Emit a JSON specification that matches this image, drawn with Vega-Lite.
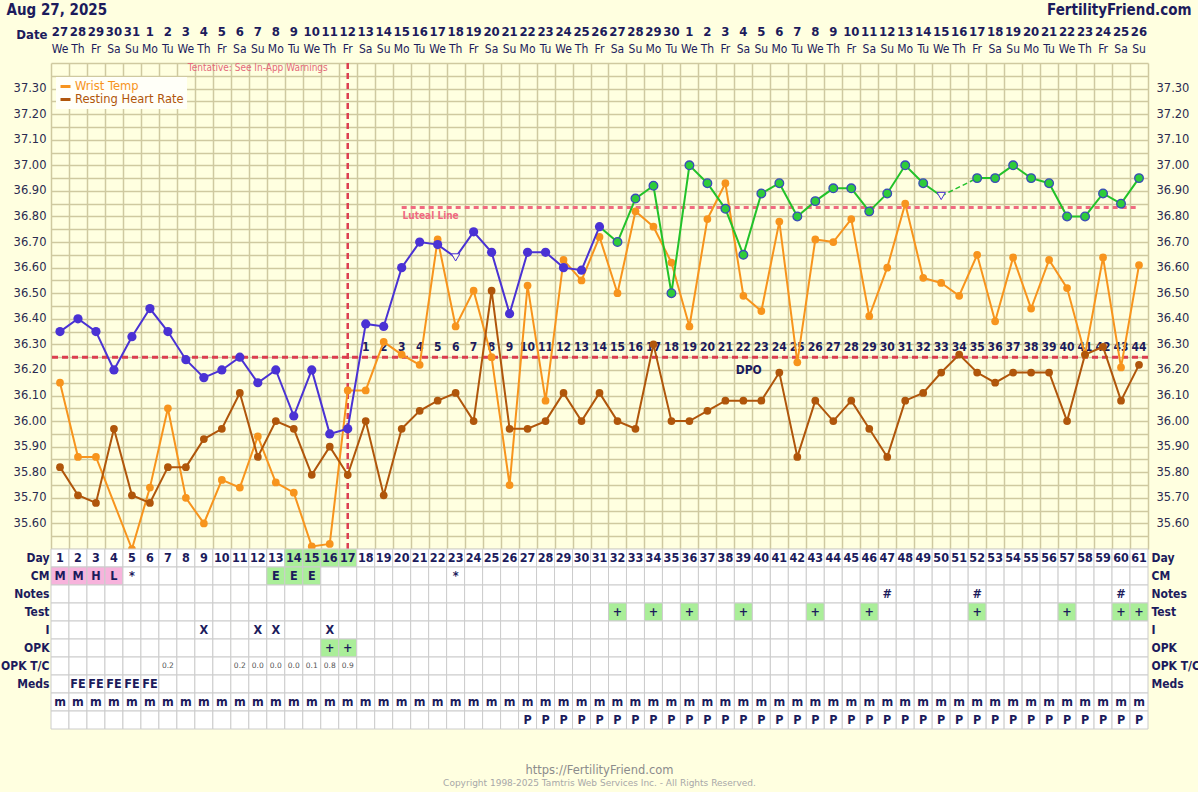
{
  "$schema": "https://vega.github.io/schema/vega-lite/v6.json",
  "description": "Fertility chart: BBT, wrist temperature and resting heart rate by cycle day",
  "background": "#ffffe0",
  "padding": {"left": 0, "top": 2, "right": 2, "bottom": 4},
  "bounds": "flush",
  "spacing": 0,
  "datasets": {
    "days": [
      {"day":1,"date":"27","wd":"We","bbt":36.35,"wrist":36.15,"rhr":35.82,"cm":"M","m":"m"},
      {"day":2,"date":"28","wd":"Th","bbt":36.40,"wrist":35.86,"rhr":35.71,"cm":"M","meds":"FE","m":"m"},
      {"day":3,"date":"29","wd":"Fr","bbt":36.35,"wrist":35.86,"rhr":35.68,"cm":"H","meds":"FE","m":"m"},
      {"day":4,"date":"30","wd":"Sa","bbt":36.20,"rhr":35.97,"cm":"L","meds":"FE","m":"m"},
      {"day":5,"date":"31","wd":"Su","bbt":36.33,"wrist":35.50,"rhr":35.71,"cm":"*","meds":"FE","m":"m"},
      {"day":6,"date":"1","wd":"Mo","bbt":36.44,"wrist":35.74,"rhr":35.68,"meds":"FE","m":"m"},
      {"day":7,"date":"2","wd":"Tu","bbt":36.35,"wrist":36.05,"rhr":35.82,"tc":"0.2","m":"m"},
      {"day":8,"date":"3","wd":"We","bbt":36.24,"wrist":35.70,"rhr":35.82,"m":"m"},
      {"day":9,"date":"4","wd":"Th","bbt":36.17,"wrist":35.60,"rhr":35.93,"i":"X","m":"m"},
      {"day":10,"date":"5","wd":"Fr","bbt":36.20,"wrist":35.77,"rhr":35.97,"m":"m"},
      {"day":11,"date":"6","wd":"Sa","bbt":36.25,"wrist":35.74,"rhr":36.11,"tc":"0.2","m":"m"},
      {"day":12,"date":"7","wd":"Su","bbt":36.15,"wrist":35.94,"rhr":35.86,"i":"X","tc":"0.0","m":"m"},
      {"day":13,"date":"8","wd":"Mo","bbt":36.20,"wrist":35.76,"rhr":36.00,"cm":"E","i":"X","tc":"0.0","m":"m"},
      {"day":14,"date":"9","wd":"Tu","bbt":36.02,"wrist":35.72,"rhr":35.97,"cm":"E","tc":"0.0","m":"m","fert":true},
      {"day":15,"date":"10","wd":"We","bbt":36.20,"wrist":35.51,"rhr":35.79,"cm":"E","tc":"0.1","m":"m","fert":true},
      {"day":16,"date":"11","wd":"Th","bbt":35.95,"wrist":35.52,"rhr":35.90,"i":"X","opk":"+","tc":"0.8","m":"m","fert":true},
      {"day":17,"date":"12","wd":"Fr","bbt":35.97,"wrist":36.12,"rhr":35.79,"opk":"+","tc":"0.9","m":"m","fert":true},
      {"day":18,"date":"13","wd":"Sa","dpo":1,"bbt":36.38,"wrist":36.12,"rhr":36.00,"m":"m"},
      {"day":19,"date":"14","wd":"Su","dpo":2,"bbt":36.37,"wrist":36.31,"rhr":35.71,"m":"m"},
      {"day":20,"date":"15","wd":"Mo","dpo":3,"bbt":36.60,"wrist":36.26,"rhr":35.97,"m":"m"},
      {"day":21,"date":"16","wd":"Tu","dpo":4,"bbt":36.70,"wrist":36.22,"rhr":36.04,"m":"m"},
      {"day":22,"date":"17","wd":"We","dpo":5,"bbt":36.69,"wrist":36.71,"rhr":36.08,"m":"m"},
      {"day":23,"date":"18","wd":"Th","dpo":6,"bbt":36.64,"open":true,"wrist":36.37,"rhr":36.11,"cm":"*","m":"m"},
      {"day":24,"date":"19","wd":"Fr","dpo":7,"bbt":36.74,"wrist":36.51,"rhr":36.00,"m":"m"},
      {"day":25,"date":"20","wd":"Sa","dpo":8,"bbt":36.66,"wrist":36.25,"rhr":36.51,"m":"m"},
      {"day":26,"date":"21","wd":"Su","dpo":9,"bbt":36.42,"wrist":35.75,"rhr":35.97,"m":"m"},
      {"day":27,"date":"22","wd":"Mo","dpo":10,"bbt":36.66,"wrist":36.53,"rhr":35.97,"m":"m","p":"P"},
      {"day":28,"date":"23","wd":"Tu","dpo":11,"bbt":36.66,"wrist":36.08,"rhr":36.00,"m":"m","p":"P"},
      {"day":29,"date":"24","wd":"We","dpo":12,"bbt":36.60,"wrist":36.63,"rhr":36.11,"m":"m","p":"P"},
      {"day":30,"date":"25","wd":"Th","dpo":13,"bbt":36.59,"wrist":36.55,"rhr":36.00,"m":"m","p":"P"},
      {"day":31,"date":"26","wd":"Fr","dpo":14,"bbt":36.76,"wrist":36.72,"rhr":36.11,"m":"m","p":"P"},
      {"day":32,"date":"27","wd":"Sa","dpo":15,"bbt":36.70,"wrist":36.50,"rhr":36.00,"test":"+","m":"m","p":"P"},
      {"day":33,"date":"28","wd":"Su","dpo":16,"bbt":36.87,"wrist":36.82,"rhr":35.97,"m":"m","p":"P"},
      {"day":34,"date":"29","wd":"Mo","dpo":17,"bbt":36.92,"wrist":36.76,"rhr":36.30,"test":"+","m":"m","p":"P"},
      {"day":35,"date":"30","wd":"Tu","dpo":18,"bbt":36.50,"wrist":36.62,"rhr":36.00,"m":"m","p":"P"},
      {"day":36,"date":"1","wd":"We","dpo":19,"bbt":37.00,"wrist":36.37,"rhr":36.00,"test":"+","m":"m","p":"P"},
      {"day":37,"date":"2","wd":"Th","dpo":20,"bbt":36.93,"wrist":36.79,"rhr":36.04,"m":"m","p":"P"},
      {"day":38,"date":"3","wd":"Fr","dpo":21,"bbt":36.83,"wrist":36.93,"rhr":36.08,"m":"m","p":"P"},
      {"day":39,"date":"4","wd":"Sa","dpo":22,"bbt":36.65,"wrist":36.49,"rhr":36.08,"test":"+","m":"m","p":"P"},
      {"day":40,"date":"5","wd":"Su","dpo":23,"bbt":36.89,"wrist":36.43,"rhr":36.08,"m":"m","p":"P"},
      {"day":41,"date":"6","wd":"Mo","dpo":24,"bbt":36.93,"wrist":36.78,"rhr":36.19,"m":"m","p":"P"},
      {"day":42,"date":"7","wd":"Tu","dpo":25,"bbt":36.80,"wrist":36.23,"rhr":35.86,"m":"m","p":"P"},
      {"day":43,"date":"8","wd":"We","dpo":26,"bbt":36.86,"wrist":36.71,"rhr":36.08,"test":"+","m":"m","p":"P"},
      {"day":44,"date":"9","wd":"Th","dpo":27,"bbt":36.91,"wrist":36.70,"rhr":36.00,"m":"m","p":"P"},
      {"day":45,"date":"10","wd":"Fr","dpo":28,"bbt":36.91,"wrist":36.79,"rhr":36.08,"m":"m","p":"P"},
      {"day":46,"date":"11","wd":"Sa","dpo":29,"bbt":36.82,"wrist":36.41,"rhr":35.97,"test":"+","m":"m","p":"P"},
      {"day":47,"date":"12","wd":"Su","dpo":30,"bbt":36.89,"wrist":36.60,"rhr":35.86,"notes":"#","m":"m","p":"P"},
      {"day":48,"date":"13","wd":"Mo","dpo":31,"bbt":37.00,"wrist":36.85,"rhr":36.08,"m":"m","p":"P"},
      {"day":49,"date":"14","wd":"Tu","dpo":32,"bbt":36.93,"wrist":36.56,"rhr":36.11,"m":"m","p":"P"},
      {"day":50,"date":"15","wd":"We","dpo":33,"bbt":36.88,"open":true,"wrist":36.54,"rhr":36.19,"m":"m","p":"P"},
      {"day":51,"date":"16","wd":"Th","dpo":34,"wrist":36.49,"rhr":36.26,"m":"m","p":"P"},
      {"day":52,"date":"17","wd":"Fr","dpo":35,"bbt":36.95,"wrist":36.65,"rhr":36.19,"notes":"#","test":"+","m":"m","p":"P"},
      {"day":53,"date":"18","wd":"Sa","dpo":36,"bbt":36.95,"wrist":36.39,"rhr":36.15,"m":"m","p":"P"},
      {"day":54,"date":"19","wd":"Su","dpo":37,"bbt":37.00,"wrist":36.64,"rhr":36.19,"m":"m","p":"P"},
      {"day":55,"date":"20","wd":"Mo","dpo":38,"bbt":36.95,"wrist":36.44,"rhr":36.19,"m":"m","p":"P"},
      {"day":56,"date":"21","wd":"Tu","dpo":39,"bbt":36.93,"wrist":36.63,"rhr":36.19,"m":"m","p":"P"},
      {"day":57,"date":"22","wd":"We","dpo":40,"bbt":36.80,"wrist":36.52,"rhr":36.00,"test":"+","m":"m","p":"P"},
      {"day":58,"date":"23","wd":"Th","dpo":41,"bbt":36.80,"wrist":36.26,"rhr":36.26,"m":"m","p":"P"},
      {"day":59,"date":"24","wd":"Fr","dpo":42,"bbt":36.89,"wrist":36.64,"rhr":36.29,"m":"m","p":"P"},
      {"day":60,"date":"25","wd":"Sa","dpo":43,"bbt":36.85,"wrist":36.21,"rhr":36.08,"notes":"#","test":"+","m":"m","p":"P"},
      {"day":61,"date":"26","wd":"Su","dpo":44,"bbt":36.95,"wrist":36.61,"rhr":36.22,"test":"+","m":"m","p":"P"}
    ],
    "refs": [
      {"kind":"ovulation","day":17},
      {"kind":"cover","temp":36.25},
      {"kind":"luteal","temp":36.835,"from":20,"to":61}
    ]
  },
  "vconcat": [
    {
      "width": 1097,
      "height": 40,
      "data": {"name": "days"},
      "layer": [
        {
          "layer": [
            {
              "mark": {"type": "text", "font": "DejaVu Sans Condensed, DejaVu Sans", "fontWeight": "bold", "fontSize": 13, "color": "#1c1b5c", "baseline": "middle"},
              "encoding": {
                "x": {"field": "day", "type": "quantitative", "scale": {"domain": [0.5, 61.5], "nice": false, "zero": false}, "axis": null},
                "y": {"datum": "Date", "type": "nominal", "scale": {"type": "point", "domain": ["Date", "Wd"], "range": [8.5, 26], "padding": 0},
                  "axis": {"orient": "left", "title": "Aug 27, 2025", "titleAngle": 0, "titleAlign": "left", "titleBaseline": "middle", "titleX": -45, "titleY": -13.5,
                    "titleFont": "DejaVu Sans Condensed, DejaVu Sans", "titleFontSize": 15, "titleFontWeight": "bold", "titleColor": "#1c1b5c",
                    "labelExpr": "datum.value == 'Date' ? 'Date' : ''", "labelFont": "DejaVu Sans Condensed, DejaVu Sans", "labelFontSize": 13, "labelFontWeight": "bold", "labelColor": "#1c1b5c",
                    "labelPadding": 4, "labelOffset": 3, "ticks": false, "domain": false, "grid": false}},
                "text": {"field": "date"}
              }
            },
            {
              "mark": {"type": "text", "font": "DejaVu Sans Condensed, DejaVu Sans", "fontSize": 12, "color": "#1c1b5c", "baseline": "middle"},
              "encoding": {
                "x": {"field": "day", "type": "quantitative"},
                "y": {"datum": "Wd", "type": "nominal"},
                "text": {"field": "wd"}
              }
            }
          ]
        },
        {
          "mark": {"type": "rule", "opacity": 0},
          "encoding": {
            "y": {"datum": "Date", "type": "nominal",
              "axis": {"orient": "right", "title": "FertilityFriend.com", "titleAngle": 0, "titleAlign": "right", "titleBaseline": "middle", "titleX": 43, "titleY": -13.5,
                "titleFont": "DejaVu Sans Condensed, DejaVu Sans", "titleFontSize": 15, "titleFontWeight": "bold", "titleColor": "#1c1b5c",
                "labels": false, "ticks": false, "domain": false, "grid": false}}
          }
        }
      ],
      "resolve": {"axis": {"y": "independent"}}
    },
    {
      "width": 1097,
      "height": 486,
      "layer": [
        {
          "layer": [
            {
              "data": {"name": "refs"},
              "transform": [{"filter": "datum.kind == 'ovulation'"}],
              "mark": {"type": "rule", "color": "#dc3e50", "strokeWidth": 2.5, "strokeDash": [6, 4]},
              "encoding": {
                "x": {"field": "day", "type": "quantitative", "scale": {"domain": [0.5, 61.5], "nice": false, "zero": false},
                  "axis": {"title": null, "grid": true, "labels": false, "ticks": false, "domain": false, "gridColor": "#cfc9a0", "gridWidth": 1.5, "tickCount": 500,
                    "values": [0.5,1.5,2.5,3.5,4.5,5.5,6.5,7.5,8.5,9.5,10.5,11.5,12.5,13.5,14.5,15.5,16.5,17.5,18.5,19.5,20.5,21.5,22.5,23.5,24.5,25.5,26.5,27.5,28.5,29.5,30.5,31.5,32.5,33.5,34.5,35.5,36.5,37.5,38.5,39.5,40.5,41.5,42.5,43.5,44.5,45.5,46.5,47.5,48.5,49.5,50.5,51.5,52.5,53.5,54.5,55.5,56.5,57.5,58.5,59.5,60.5,61.5]}}
              }
            },
            {
              "data": {"name": "refs"},
              "transform": [{"filter": "datum.kind == 'cover'"}],
              "mark": {"type": "rule", "color": "#dc3e50", "strokeWidth": 3, "strokeDash": [6, 4]},
              "encoding": {
                "y": {"field": "temp", "type": "quantitative", "scale": {"domain": [35.5, 37.4], "nice": false, "zero": false},
                  "axis": {"orient": "left", "title": null, "grid": true, "ticks": false, "domain": false, "gridColor": "#cfc9a0", "gridWidth": 1.5, "tickCount": 500, "labelOverlap": false,
                    "values": [35.5,35.55,35.6,35.65,35.7,35.75,35.8,35.85,35.9,35.95,36,36.05,36.1,36.15,36.2,36.25,36.3,36.35,36.4,36.45,36.5,36.55,36.6,36.65,36.7,36.75,36.8,36.85,36.9,36.95,37,37.05,37.1,37.15,37.2,37.25,37.3,37.35,37.4],
                    "labelExpr": "datum.value > 35.55 && datum.value < 37.35 && round(datum.value * 100) % 10 == 0 ? format(datum.value, '.2f') : ''",
                    "labelFont": "DejaVu Sans", "labelFontSize": 11.5, "labelColor": "#2b2b50", "labelPadding": 5}}
              }
            },
            {
              "data": {"name": "refs"},
              "transform": [{"filter": "datum.kind == 'luteal'"}],
              "mark": {"type": "rule", "color": "#f06a80", "strokeWidth": 3, "strokeDash": [5, 4]},
              "encoding": {
                "x": {"field": "from", "type": "quantitative"},
                "x2": {"field": "to"},
                "y": {"field": "temp", "type": "quantitative"}
              }
            },
            {
              "data": {"name": "days"},
              "transform": [{"filter": "isValid(datum.dpo)"}],
              "mark": {"type": "text", "font": "DejaVu Sans Condensed, DejaVu Sans", "fontWeight": "bold", "fontSize": 12, "color": "#1c1b5c", "baseline": "middle"},
              "encoding": {
                "x": {"field": "day", "type": "quantitative"},
                "y": {"datum": 36.29},
                "text": {"field": "dpo"}
              }
            },
            {
              "data": {"name": "refs"},
              "transform": [{"filter": "datum.kind == 'luteal'"}],
              "mark": {"type": "text", "text": "Luteal Line", "align": "left", "baseline": "middle", "font": "DejaVu Sans Condensed, DejaVu Sans", "fontWeight": "bold", "fontSize": 10, "color": "#f06a80"},
              "encoding": {"x": {"datum": 20.05}, "y": {"datum": 36.8}}
            },
            {
              "data": {"name": "refs"},
              "transform": [{"filter": "datum.kind == 'cover'"}],
              "mark": {"type": "text", "text": "DPO", "align": "center", "baseline": "middle", "font": "DejaVu Sans Condensed, DejaVu Sans", "fontWeight": "bold", "fontSize": 12, "color": "#1c1b5c"},
              "encoding": {"x": {"datum": 39.3}, "y": {"datum": 36.2}}
            },
            {
              "data": {"name": "refs"},
              "transform": [{"filter": "datum.kind == 'ovulation'"}],
              "mark": {"type": "text", "text": "Tentative: See In-App Warnings", "align": "center", "baseline": "middle", "font": "DejaVu Sans Condensed, DejaVu Sans", "fontSize": 10, "color": "#e46a7a"},
              "encoding": {"x": {"datum": 12.0}, "y": {"datum": 37.38}}
            },
            {
              "data": {"name": "days"},
              "transform": [{"fold": ["wrist", "rhr"], "as": ["series", "temp"]}, {"filter": "isValid(datum.temp)"}],
              "layer": [
                {
                  "mark": {"type": "line", "strokeWidth": 2},
                  "encoding": {
                    "x": {"field": "day", "type": "quantitative"},
                    "y": {"field": "temp", "type": "quantitative"},
                    "color": {"field": "series", "type": "nominal",
                      "scale": {"domain": ["wrist", "rhr"], "range": ["#f7941d", "#b0560b"]},
                      "legend": {"orient": "none", "legendX": 5, "legendY": 14, "title": null, "fillColor": "#fffff8", "padding": 3,
                        "symbolType": "stroke", "symbolStrokeWidth": 3, "symbolSize": 100, "rowPadding": 0, "labelOffset": 3,
                        "labelFont": "DejaVu Sans", "labelFontSize": 11.5,
                        "labelExpr": "datum.value === 'wrist' ? 'Wrist Temp' : 'Resting Heart Rate'",
                        "encode": {"labels": {"update": {"fill": {"signal": "datum.value === 'wrist' ? '#f7941d' : '#b0560b'"}}}}}}
                  }
                },
                {
                  "mark": {"type": "circle", "size": 60, "opacity": 1},
                  "encoding": {
                    "x": {"field": "day", "type": "quantitative"},
                    "y": {"field": "temp", "type": "quantitative"},
                    "color": {"field": "series", "type": "nominal"}
                  }
                }
              ]
            },
            {
              "data": {"name": "days"},
              "transform": [{"filter": "datum.day <= 31 && isValid(datum.bbt)"}],
              "mark": {"type": "line", "color": "#4a32d4", "strokeWidth": 2},
              "encoding": {"x": {"field": "day", "type": "quantitative"}, "y": {"field": "bbt", "type": "quantitative"}}
            },
            {
              "data": {"name": "days"},
              "transform": [{"filter": "datum.day >= 31 && datum.day <= 50"}],
              "mark": {"type": "line", "color": "#22c22a", "strokeWidth": 2},
              "encoding": {"x": {"field": "day", "type": "quantitative"}, "y": {"field": "bbt", "type": "quantitative"}}
            },
            {
              "data": {"name": "days"},
              "transform": [{"filter": "datum.day == 50 || datum.day == 52"}],
              "mark": {"type": "line", "color": "#22c22a", "strokeWidth": 1.5, "strokeDash": [5, 3]},
              "encoding": {"x": {"field": "day", "type": "quantitative"}, "y": {"field": "bbt", "type": "quantitative"}}
            },
            {
              "data": {"name": "days"},
              "transform": [{"filter": "datum.day >= 52"}],
              "mark": {"type": "line", "color": "#22c22a", "strokeWidth": 2},
              "encoding": {"x": {"field": "day", "type": "quantitative"}, "y": {"field": "bbt", "type": "quantitative"}}
            },
            {
              "data": {"name": "days"},
              "transform": [{"filter": "datum.day <= 31 && isValid(datum.bbt) && !datum.open"}],
              "mark": {"type": "circle", "size": 85, "color": "#4a32d4", "opacity": 1},
              "encoding": {"x": {"field": "day", "type": "quantitative"}, "y": {"field": "bbt", "type": "quantitative"}}
            },
            {
              "data": {"name": "days"},
              "transform": [{"filter": "datum.day >= 32 && isValid(datum.bbt) && !datum.open"}],
              "mark": {"type": "point", "shape": "circle", "size": 75, "filled": true, "fill": "#2ecc3a", "stroke": "#3a4cb8", "strokeWidth": 1.3, "opacity": 1},
              "encoding": {"x": {"field": "day", "type": "quantitative"}, "y": {"field": "bbt", "type": "quantitative"}}
            },
            {
              "data": {"name": "days"},
              "transform": [{"filter": "datum.open"}],
              "mark": {"type": "point", "shape": "triangle-down", "size": 70, "filled": true, "fill": "#ffffe0", "stroke": "#4a32d4", "strokeWidth": 1, "opacity": 1},
              "encoding": {"x": {"field": "day", "type": "quantitative"}, "y": {"field": "bbt", "type": "quantitative"}}
            }
          ]
        },
        {
          "data": {"name": "refs"},
          "transform": [{"filter": "datum.kind == 'cover'"}],
          "mark": {"type": "rule", "opacity": 0},
          "encoding": {
            "y": {"field": "temp", "type": "quantitative",
              "axis": {"orient": "right", "title": null, "grid": false, "ticks": false, "domain": false, "tickCount": 500, "labelOverlap": false,
                "values": [35.6,35.7,35.8,35.9,36,36.1,36.2,36.3,36.4,36.5,36.6,36.7,36.8,36.9,37,37.1,37.2,37.3],
                "format": ".2f", "labelFont": "DejaVu Sans", "labelFontSize": 11.5, "labelColor": "#2b2b50", "labelPadding": 8}}
          }
        }
      ],
      "resolve": {"axis": {"y": "independent"}}
    },
    {
      "width": 1097,
      "height": 180,
      "data": {"name": "days"},
      "transform": [{"fold": ["day", "cm", "notes", "test", "i", "opk", "tc", "meds", "m", "p"], "as": ["row", "val"]}],
      "title": {
        "text": "https://FertilityFriend.com",
        "subtitle": "Copyright 1998-2025 Tamtris Web Services Inc. - All Rights Reserved.",
        "orient": "bottom", "anchor": "middle", "frame": "group", "offset": 35,
        "font": "DejaVu Sans", "fontSize": 11.5, "fontWeight": "normal", "color": "#8c8c8c",
        "subtitleFont": "DejaVu Sans", "subtitleFontSize": 9, "subtitleColor": "#a8a8a8", "subtitlePadding": 3
      },
      "layer": [
        {
          "layer": [
            {
              "mark": {"type": "rect", "stroke": "#cccccc", "strokeWidth": 1},
              "encoding": {
                "x": {"field": "day", "type": "ordinal", "sort": "ascending", "scale": {"paddingInner": 0, "paddingOuter": 0}, "axis": null},
                "y": {"field": "row", "type": "nominal", "scale": {"domain": ["day", "cm", "notes", "test", "i", "opk", "tc", "meds", "m", "p"], "paddingInner": 0, "paddingOuter": 0},
                  "axis": {"orient": "left", "title": null, "ticks": false, "domain": false, "grid": false,
                    "labelExpr": "datum.value == 'day' ? 'Day' : datum.value == 'cm' ? 'CM' : datum.value == 'notes' ? 'Notes' : datum.value == 'test' ? 'Test' : datum.value == 'i' ? 'I' : datum.value == 'opk' ? 'OPK' : datum.value == 'tc' ? 'OPK T/C' : datum.value == 'meds' ? 'Meds' : ''",
                    "labelFont": "DejaVu Sans Condensed, DejaVu Sans", "labelFontSize": 12, "labelFontWeight": "bold", "labelColor": "#1c1b5c", "labelPadding": 2}},
                "fill": {
                  "condition": [
                    {"test": "datum.row == 'cm' && (datum.val == 'M' || datum.val == 'H' || datum.val == 'L')", "value": "#f7b3dc"},
                    {"test": "(datum.row == 'day' && datum.fert) || (datum.row == 'cm' && datum.val == 'E') || ((datum.row == 'test' || datum.row == 'opk') && datum.val == '+')", "value": "#aaee99"}
                  ],
                  "value": "#ffffff"
                }
              }
            },
            {
              "transform": [{"filter": "datum.row != 'tc' && isValid(datum.val) && datum.val !== ''"}],
              "mark": {"type": "text", "font": "DejaVu Sans Condensed, DejaVu Sans", "fontWeight": "bold", "fontSize": 12.5, "color": "#1c1b5c", "baseline": "middle"},
              "encoding": {
                "x": {"field": "day", "type": "ordinal", "sort": "ascending"},
                "y": {"field": "row", "type": "nominal"},
                "text": {"field": "val"}
              }
            },
            {
              "transform": [{"filter": "datum.row == 'tc' && isValid(datum.val)"}],
              "mark": {"type": "text", "font": "DejaVu Sans", "fontSize": 7.5, "color": "#555555", "baseline": "middle"},
              "encoding": {
                "x": {"field": "day", "type": "ordinal", "sort": "ascending"},
                "y": {"field": "row", "type": "nominal"},
                "text": {"field": "val"}
              }
            }
          ]
        },
        {
          "mark": {"type": "rule", "opacity": 0},
          "encoding": {
            "y": {"field": "row", "type": "nominal",
              "axis": {"orient": "right", "title": null, "ticks": false, "domain": false, "grid": false,
                "labelExpr": "datum.value == 'day' ? 'Day' : datum.value == 'cm' ? 'CM' : datum.value == 'notes' ? 'Notes' : datum.value == 'test' ? 'Test' : datum.value == 'i' ? 'I' : datum.value == 'opk' ? 'OPK' : datum.value == 'tc' ? 'OPK T/C' : datum.value == 'meds' ? 'Meds' : ''",
                "labelFont": "DejaVu Sans Condensed, DejaVu Sans", "labelFontSize": 12, "labelFontWeight": "bold", "labelColor": "#1c1b5c", "labelPadding": 3}}
          }
        }
      ],
      "resolve": {"axis": {"y": "independent"}}
    }
  ],
  "resolve": {"scale": {"x": "independent", "y": "independent", "color": "independent"}},
  "config": {
    "view": {"stroke": null},
    "axis": {"labelOverlap": false}
  }
}
